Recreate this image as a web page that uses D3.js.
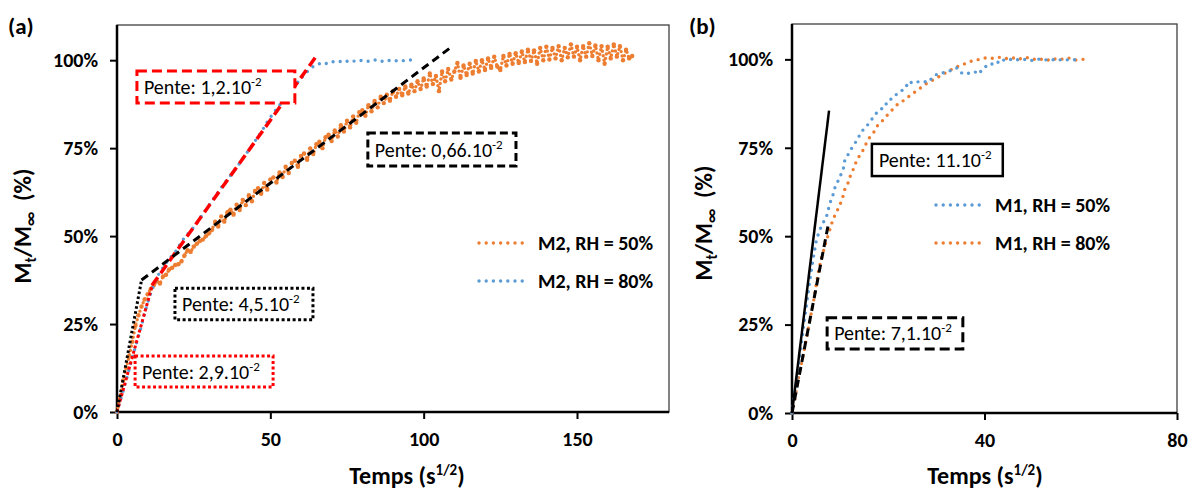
<!DOCTYPE html>
<html><head><meta charset="utf-8">
<script src="https://cdn.jsdelivr.net/npm/d3@7"></script>
<style>body{margin:0;background:#fff}svg{display:block}text{font-family:Carlito,Lato,sans-serif;fill:#000}</style>
</head><body><svg id="c" width="1192" height="490"></svg>
<script>
// ---------- DATA ----------
const yTicks = [0, 0.25, 0.5, 0.75, 1.0];
const xTicksA = [0, 50, 100, 150];
const xTicksB = [0, 40, 80];

// Panel (a): M2, RH = 50% (orange)
const m2_50 = [[0,0],[1,0.04],[2,0.09],[3,0.125],[4,0.16],[5,0.2],[6,0.245],[7,0.275],[8,0.3],[9,0.32],[10,0.335],[11,0.35],[12,0.36],[13,0.372],[14,0.365],[15,0.385],[16,0.39],[17,0.405],[18,0.41],[19,0.418],[20,0.42],[21,0.428],[22,0.445],[23,0.46],[24,0.455],[25,0.47],[26,0.478],[27,0.486],[28,0.49],[29,0.5],[30,0.508],
[31,0.518],[32,0.541],[33,0.527],[34,0.556],[35,0.541],[36,0.568],[37,0.575],[38,0.561],[39,0.589],[40,0.574],[41,0.603],[42,0.588],[43,0.616],[44,0.599],[45,0.628],[46,0.636],[47,0.62],[48,0.651],[49,0.632],[50,0.661],[51,0.667],[52,0.652],[53,0.681],[54,0.668],[55,0.697],[56,0.679],[57,0.708],[58,0.714],[59,0.697],[60,0.728],[61,0.735],[62,0.717],[63,0.749],[64,0.733],[65,0.761],[66,0.768],[67,0.75],[68,0.781],[69,0.788],[70,0.77],[71,0.8],[72,0.783],[73,0.815],[74,0.797],[75,0.828],[76,0.809],[77,0.84],[78,0.822],[79,0.852],[80,0.858],[81,0.842],[82,0.872],[83,0.855],[84,0.884],[85,0.866],[86,0.896],[87,0.878],[88,0.902],
[89,0.885],[90,0.912],[91,0.896],[92,0.918],[93,0.9],[94,0.925],[95,0.905],[96,0.93],[97,0.912],[98,0.94],[99,0.918],[100,0.948],[101,0.925],[102,0.962],[103,0.932],[104,0.955],[105,0.912],[106,0.968],[107,0.94],[108,0.975],[109,0.945],[110,0.968],[111,0.992],[112,0.95],[113,0.985],[114,0.958],[115,0.99],[116,0.962],[117,0.998],[118,0.968],[119,1.0],[120,0.972],[121,1.005],[122,0.978],[123,1.01],[124,0.982],[125,0.972],[126,1.012],[127,0.985],[128,1.018],[129,0.99],[130,1.02],[131,0.992],[132,1.025],[133,0.995],[134,1.03],[135,0.998],[136,1.028],[137,0.99],[138,1.035],[139,1.0],[140,1.038],[141,1.002],[142,1.035],[143,1.005],[144,1.04],[145,1.0],[146,1.035],[147,1.008],[148,1.045],[149,1.01],[150,1.038],[151,1.0],[152,1.04],[153,1.01],[154,1.048],[155,1.012],[156,1.042],[157,1.0],[158,1.04],[159,0.99],[160,1.038],[161,1.005],[162,1.045],[163,1.01],[164,1.04],[165,1.0],[166,1.03],[167,1.005],[168,1.012]];

// Panel (a): M2, RH = 80% (blue)
const m2_80 = [[0,0],[1.5,0.045],[3,0.09],[4.5,0.14],[6,0.185],[7.5,0.23],[9,0.28],[10.5,0.325],[12,0.36],[13.5,0.39],[15,0.41],[16.5,0.43],[18,0.445],[19.5,0.46],[21,0.485],[23,0.505],[25,0.525],[27,0.55],[29,0.575],[31,0.6],[33,0.625],[35,0.65],[37,0.672],[39,0.695],[41,0.72],[43,0.745],[45,0.77],[47,0.795],[49,0.825],[51,0.85],[53,0.872],[55,0.895],[57,0.915],[59,0.938],[61,0.958],[62.5,0.972],[64,0.982],[65.5,0.988],[67,0.993],[68.5,0.99],[70,0.995],[72,0.998],[74,0.994],[76,1.0],[78,0.996],[80,1.0],[82,0.997],[84,1.001],[86,0.996],[88,1.0],[90,0.997],[92,1.0],[94,0.998],[96,1.001]];

// Panel (b): M1, RH = 50% (blue)
const m1_50 = [[0,0],[0.6,0.06],[1.2,0.12],[1.8,0.18],[2.4,0.245],[3,0.305],[3.6,0.365],[4.2,0.42],[4.7,0.46],[5.1,0.492],[6.2,0.532],[7.1,0.552],[7.9,0.594],[8.5,0.616],[9,0.641],[9.9,0.665],[10.7,0.693],[11,0.717],[11.9,0.736],[12.6,0.754],[13.6,0.773],[14.3,0.794],[15.4,0.809],[16.4,0.827],[17.3,0.844],[18.2,0.858],[19.2,0.863],[19.9,0.884],[21,0.89],[21.7,0.901],[22.5,0.91],[23.5,0.916],[24.2,0.937],[25.3,0.932],[26.3,0.937],[27.4,0.937],[28.4,0.936],[29.4,0.953],[30.5,0.96],[31.4,0.962],[32.2,0.964],[33.3,0.97],[34.3,0.976],[35.2,0.962],[36,0.958],[37,0.962],[38,0.965],[38.7,0.958],[39.9,0.976],[41,0.988],[42.4,0.985],[43.3,1.0],[44.6,0.996],[45.9,1.002],[47.2,0.998],[48.5,1.0],[49.8,0.997],[51.1,1.001],[52.4,0.998],[53.7,1.0],[55,0.997],[56.3,1.0],[57.6,0.998],[59.6,1.0]];

// Panel (b): M1, RH = 80% (orange)
const m1_80 = [[0,0],[0.6,0.04],[1.5,0.11],[2.2,0.155],[3.1,0.218],[3.75,0.265],[4.4,0.31],[5,0.36],[5.5,0.4],[6.2,0.443],[6.9,0.475],[7.6,0.507],[8.5,0.547],[9.2,0.567],[9.9,0.586],[10.6,0.613],[11,0.634],[11.7,0.652],[12.2,0.674],[12.9,0.694],[13.5,0.717],[14.5,0.736],[15.2,0.756],[15.9,0.775],[17,0.794],[17.8,0.813],[18.9,0.828],[19.9,0.844],[21,0.86],[22.1,0.875],[23.5,0.886],[24.7,0.9],[26,0.912],[27.2,0.924],[28.4,0.936],[29.8,0.945],[31,0.955],[32.3,0.965],[33.6,0.975],[35,0.983],[36.4,0.99],[37.7,0.997],[39,1.0],[40.4,1.005],[41.7,1.003],[43,1.006],[44.4,1.002],[45.7,1.005],[47,1.0],[48.4,1.006],[49.7,1.003],[51,0.998],[52.4,1.002],[53.7,0.996],[55,1.003],[56.4,1.0],[57.7,1.004],[59,0.998],[60.3,1.0],[61.4,1.0]];

// Fitted slope lines
const fitA_red_dash = [[11.4,0.36],[65.2,1.014]];
const fitA_black_dash = [[8,0.375],[108.8,1.036]];
const fitA_black_dot = [[0,0],[8,0.375]];
const fitA_red_dot = [[0,0],[11.5,0.36]];
const fitB_solid = [[0,0],[7.7,0.855]];
const fitB_dash = [[0,0],[7.5,0.53]];

// Annotation labels
const labelsA = [
  {text:"Pente: 1,2.10", sup:"-2", x0:6.5, x1:58, y0:0.969, y1:0.878, style:"reddash"},
  {text:"Pente: 0,66.10", sup:"-2", x0:81.8, x1:130.1, y0:0.793, y1:0.699, style:"blackdash"},
  {text:"Pente: 4,5.10", sup:"-2", x0:18.9, x1:63.9, y0:0.352, y1:0.262, style:"blackdot"},
  {text:"Pente: 2,9.10", sup:"-2", x0:5.9, x1:50.9, y0:0.159, y1:0.071, style:"reddot"}
];
const labelsB = [
  {text:"Pente: 11.10", sup:"-2", x0:16.6, x1:43.8, y0:0.761, y1:0.670, style:"solid"},
  {text:"Pente: 7,1.10", sup:"-2", x0:7.3, x1:35.5, y0:0.269, y1:0.181, style:"blackdash2"}
];
const legendA = ["M2, RH = 50%", "M2, RH = 80%"];
const legendB = ["M1, RH = 50%", "M1, RH = 80%"];

// ---------- DRAW ----------
const ORANGE = "#ED7D31", BLUE = "#5B9BD5", RED = "#FF0000";
const FONT = "Carlito, Lato, sans-serif";
const svg = d3.select("#c");

const boxStyles = {
  reddash:{stroke:RED, dash:"10 5", w:3},
  reddot:{stroke:RED, dash:"3 2.5", w:3},
  blackdash:{stroke:"#000", dash:"8 4", w:3},
  blackdash2:{stroke:"#000", dash:"10 5", w:3},
  blackdot:{stroke:"#000", dash:"3 2.5", w:3},
  solid:{stroke:"#000", dash:null, w:2.5}
};

function panel(cfg) {
  const x = d3.scaleLinear().domain(cfg.xDomain).range([cfg.left, cfg.right]);
  const y = d3.scaleLinear().domain([0, 1.1]).range([cfg.bottom, cfg.top]);
  const g = svg.append("g");

  g.append("rect").attr("x", cfg.left).attr("y", cfg.top)
    .attr("width", cfg.right - cfg.left).attr("height", cfg.bottom - cfg.top)
    .attr("fill", "none").attr("stroke", "#404040").attr("stroke-width", 1.3);

  const ya = d3.axisLeft(y).tickValues(yTicks).tickFormat(d3.format(".0%")).tickSize(7).tickPadding(12);
  const yg = g.append("g").attr("transform", `translate(${cfg.left},0)`).call(ya);
  const xa = d3.axisBottom(x).tickValues(cfg.xTicks).tickFormat(d3.format("d")).tickSize(7).tickPadding(13);
  const xg = g.append("g").attr("transform", `translate(0,${cfg.bottom})`).call(xa);
  [yg, xg].forEach(a => {
    a.attr("font-family", FONT).attr("font-size", 20);
    a.select(".domain").remove();
    a.selectAll(".tick line").attr("stroke", "#000").attr("stroke-width", 2);
    a.selectAll(".tick text").attr("font-size", 20).attr("font-weight", "bold")
      .attr("font-family", FONT).attr("fill", "#000");
  });
  g.append("line").attr("x1", cfg.left).attr("x2", cfg.left).attr("y1", cfg.top).attr("y2", cfg.bottom + 1.25)
    .attr("stroke", "#000").attr("stroke-width", 2.5);
  g.append("line").attr("x1", cfg.left - 1.25).attr("x2", cfg.right).attr("y1", cfg.bottom).attr("y2", cfg.bottom)
    .attr("stroke", "#000").attr("stroke-width", 2.5);

  const line = d3.line().x(d => x(d[0])).y(d => y(d[1]));

  cfg.series.forEach(s => {
    g.append("path").datum(s.data).attr("d", line).attr("fill", "none")
      .attr("stroke", s.color).attr("stroke-width", 3.4).attr("stroke-linecap", "round")
      .attr("stroke-dasharray", s.dash || "0 7.2");
    if (s.markers) {
      g.append("g").selectAll("circle").data(s.data).join("circle")
        .attr("cx", d => x(d[0])).attr("cy", d => y(d[1])).attr("r", 2.2).attr("fill", s.color);
    }
  });

  cfg.fits.forEach(f => {
    g.append("path").datum(f.data).attr("d", line).attr("fill", "none")
      .attr("stroke", f.color).attr("stroke-width", f.w)
      .attr("stroke-dasharray", f.dash).attr("stroke-linecap", "butt");
  });

  cfg.labels.forEach(l => {
    const st = boxStyles[l.style];
    const bx = x(l.x0), by = y(l.y0), bw = x(l.x1) - x(l.x0), bh = y(l.y1) - y(l.y0);
    g.append("rect").attr("x", bx).attr("y", by).attr("width", bw).attr("height", bh)
      .attr("fill", "#fff").attr("stroke", st.stroke).attr("stroke-width", st.w)
      .attr("stroke-dasharray", st.dash);
    const t = g.append("text").attr("x", bx + 7).attr("y", by + bh / 2 + 7)
      .attr("font-size", 20);
    t.append("tspan").text(l.text);
    t.append("tspan").attr("dy", -8).attr("font-size", 13).text(l.sup);
  });

  cfg.legend.forEach((name, i) => {
    const ly = cfg.legY[i];
    g.append("line").attr("x1", cfg.legX).attr("x2", cfg.legX + 50).attr("y1", ly).attr("y2", ly)
      .attr("stroke", cfg.legColors[i]).attr("stroke-width", 3.4).attr("stroke-linecap", "round")
      .attr("stroke-dasharray", "0 7.2");
    g.append("text").attr("x", cfg.legX + 59).attr("y", ly + 7)
      .attr("font-size", 20).attr("font-weight", "bold").text(name);
  });

  const xt = g.append("text").attr("x", cfg.xTitleX).attr("y", 484).attr("text-anchor", "middle")
    .attr("font-size", 24).attr("font-weight", "bold");
  xt.append("tspan").text("Temps (s");
  xt.append("tspan").attr("dy", -9).attr("font-size", 15).text("1/2");
  xt.append("tspan").attr("dy", 9).text(")");

  const yt = g.append("text").attr("transform", `translate(${cfg.yTitleX},${cfg.yTitleY}) rotate(-90)`)
    .attr("text-anchor", "middle").attr("font-size", 24).attr("font-weight", "bold")
    .attr("xml:space", "preserve");
  yt.append("tspan").text("M");
  yt.append("tspan").attr("dy", 5).attr("font-size", 15).text("t");
  yt.append("tspan").attr("dy", -5).text("/M");
  yt.append("tspan").attr("dy", 5).attr("font-size", 17).text("∞");
  yt.append("tspan").attr("dy", -5).text("  (%)");

  svg.append("text").attr("x", cfg.letterX).attr("y", 34).attr("font-size", 23)
    .attr("font-weight", "bold").text(cfg.letter);
}

panel({
  left:117, right:669, top:25, bottom:412, xDomain:[0,180], xTicks:xTicksA,
  series:[{data:m2_50, color:ORANGE, dash:"0 4.5", markers:true},{data:m2_80, color:BLUE}],
  fits:[
    {data:fitA_red_dot, color:RED, w:3, dash:"3 2.5"},
    {data:fitA_black_dot, color:"#000", w:3, dash:"2.5 2.5"},
    {data:fitA_red_dash, color:RED, w:3.5, dash:"10 5"},
    {data:fitA_black_dash, color:"#000", w:3, dash:"8 5"}
  ],
  labels:labelsA, legend:legendA, legColors:[ORANGE, BLUE], legX:479, legY:[243,281],
  xTitleX:407, yTitleX:31, yTitleY:226, letter:"(a)", letterX:8
});

panel({
  left:792, right:1177, top:24, bottom:413, xDomain:[0,80], xTicks:xTicksB,
  series:[{data:m1_80, color:ORANGE},{data:m1_50, color:BLUE}],
  fits:[
    {data:fitB_solid, color:"#000", w:2.5, dash:null},
    {data:fitB_dash, color:"#000", w:3, dash:"8 5"}
  ],
  labels:labelsB, legend:legendB, legColors:[BLUE, ORANGE], legX:936, legY:[205,243],
  xTitleX:985, yTitleX:712, yTitleY:223, letter:"(b)", letterX:689
});
</script></body></html>
